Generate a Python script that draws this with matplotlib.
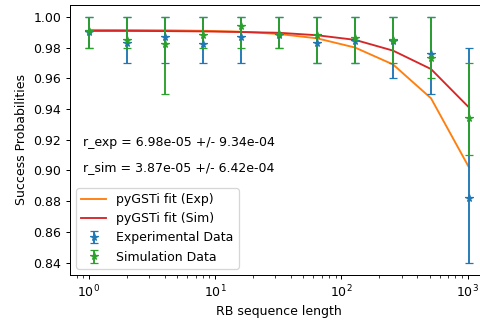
import numpy as np
import matplotlib
matplotlib.use("Agg")
import matplotlib.pyplot as plt

# RB sequence lengths
lengths = [1, 2, 4, 8, 16, 32, 64, 128, 256, 512, 1024]

# experimental data (mean, lower / upper bounds of the bars)
exp_mean = [0.990, 0.983, 0.987, 0.982, 0.987, 0.988, 0.983, 0.984, 0.984, 0.976, 0.882]
exp_low = [0.98, 0.97, 0.97, 0.97, 0.97, 0.98, 0.97, 0.97, 0.96, 0.95, 0.84]
exp_high = [1.00, 1.00, 1.00, 1.00, 1.00, 1.00, 1.00, 1.00, 1.00, 1.00, 0.98]

# simulation data
sim_mean = [0.991, 0.985, 0.982, 0.988, 0.994, 0.989, 0.988, 0.986, 0.985, 0.973, 0.934]
sim_low = [0.98, 0.98, 0.95, 0.98, 0.98, 0.98, 0.97, 0.97, 0.97, 0.96, 0.91]
sim_high = [1.00, 1.00, 1.00, 1.00, 1.00, 1.00, 1.00, 1.00, 1.00, 1.00, 0.97]

# pyGSTi fits
exp_fit = [0.9915, 0.9914, 0.9912, 0.9909, 0.9903, 0.9888, 0.986, 0.980, 0.969, 0.947, 0.902]
sim_fit = [0.9908, 0.9908, 0.9907, 0.9905, 0.9901, 0.9896, 0.988, 0.985, 0.978, 0.966, 0.941]

r_exp_text = "r_exp = 6.98e-05 +/- 9.34e-04"
r_sim_text = "r_sim = 3.87e-05 +/- 6.42e-04"


def asym_err(mean, low, high):
    mean = np.array(mean)
    return [mean - np.array(low), np.array(high) - mean]


DPI = 90
fig = plt.figure(figsize=(481 / DPI, 324 / DPI), dpi=DPI)
ax = fig.add_axes([70 / 481, 1 - 275 / 324, 418 / 481, 270.5 / 324])

ax.plot(lengths, exp_fit, color="C1", label="pyGSTi fit (Exp)")
ax.plot(lengths, sim_fit, color="C3", label="pyGSTi fit (Sim)")
ax.errorbar(lengths, exp_mean, yerr=asym_err(exp_mean, exp_low, exp_high),
            fmt="*", color="C0", capsize=3.5, label="Experimental Data")
ax.errorbar(lengths, sim_mean, yerr=asym_err(sim_mean, sim_low, sim_high),
            fmt="*", color="C2", capsize=3.5, label="Simulation Data")

ax.set_xscale("log")
ax.set_xlabel("RB sequence length")
ax.set_ylabel("Success Probabilities")

ax.text(0.031, 0.488, r_exp_text, transform=ax.transAxes, va="center")
ax.text(0.031, 0.399, r_sim_text, transform=ax.transAxes, va="center")

ax.legend(loc="lower left")

fig.savefig("out.png", dpi=DPI)
